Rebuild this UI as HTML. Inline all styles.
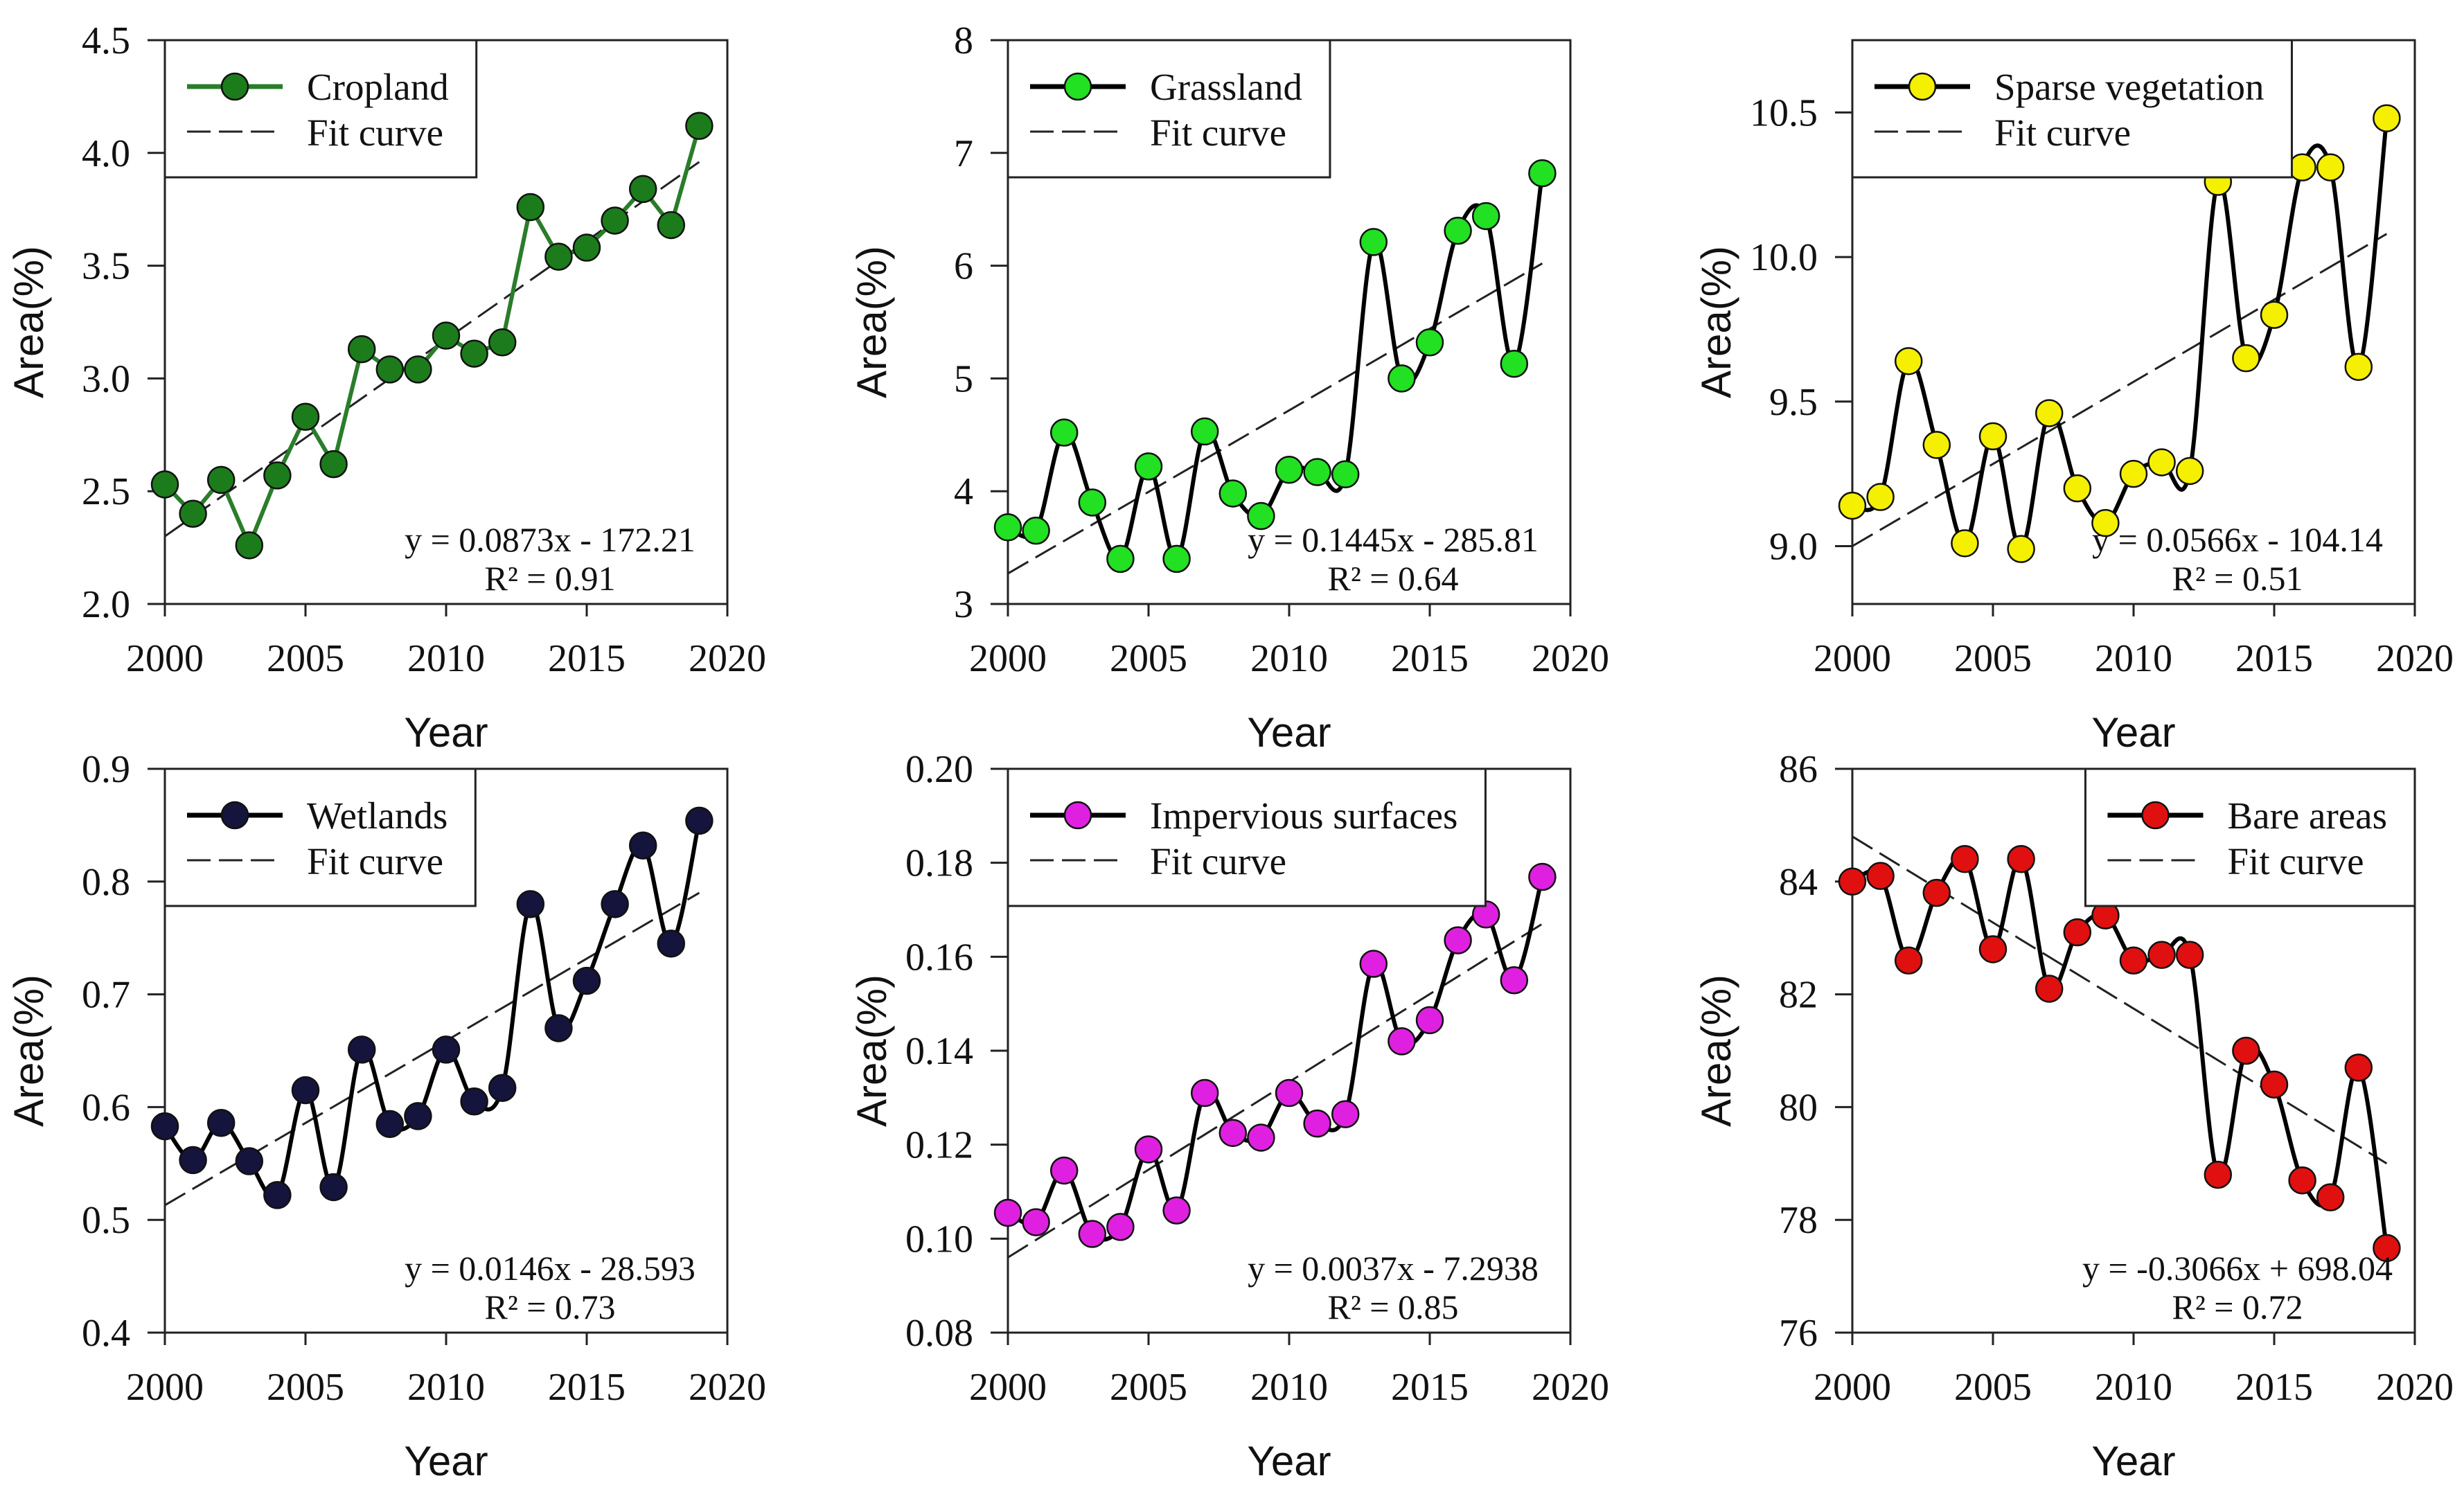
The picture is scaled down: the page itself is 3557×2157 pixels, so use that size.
<!DOCTYPE html>
<html><head><meta charset="utf-8"><style>
html,body{margin:0;padding:0;background:#fff;}
svg{display:block;}
.tk{font-family:"Liberation Serif",serif;font-size:56px;fill:#111;}
.ttl{font-family:"Liberation Sans",sans-serif;font-size:60px;fill:#111;}
.lg{font-family:"Liberation Serif",serif;font-size:55px;fill:#111;}
.eq{font-family:"Liberation Serif",serif;font-size:50px;fill:#111;}
</style></head><body>
<svg id="fig" width="3557" height="2157" viewBox="0 0 3557 2157" xmlns="http://www.w3.org/2000/svg"></svg>
<script>
const years = [2000,2001,2002,2003,2004,2005,2006,2007,2008,2009,2010,2011,2012,2013,2014,2015,2016,2017,2018,2019];
const xTicks = [2000,2005,2010,2015,2020];
const croplandValues = [2.53,2.40,2.55,2.26,2.57,2.83,2.62,3.13,3.04,3.04,3.19,3.11,3.16,3.76,3.54,3.58,3.70,3.84,3.68,4.12];
const grasslandValues = [3.68,3.65,4.52,3.90,3.40,4.22,3.40,4.53,3.98,3.78,4.19,4.17,4.15,6.21,5.00,5.32,6.31,6.44,5.13,6.82];
const sparseValues = [9.14,9.17,9.64,9.35,9.01,9.38,8.99,9.46,9.20,9.08,9.25,9.29,9.26,10.26,9.65,9.80,10.31,10.31,9.62,10.48];
const wetlandValues = [0.583,0.553,0.586,0.552,0.522,0.615,0.529,0.651,0.585,0.592,0.651,0.605,0.617,0.780,0.670,0.712,0.780,0.832,0.745,0.854];
const imperviousValues = [0.1055,0.1035,0.1145,0.101,0.1025,0.119,0.106,0.131,0.1225,0.1215,0.131,0.1245,0.1265,0.1585,0.142,0.1465,0.1635,0.169,0.155,0.177];
const bareValues = [84.0,84.1,82.6,83.8,84.4,82.8,84.4,82.1,83.1,83.4,82.6,82.7,82.7,78.8,81.0,80.4,78.7,78.4,80.7,77.5];
const croplandTicks = ["2.0","2.5","3.0","3.5","4.0","4.5"];
const grasslandTicks = ["3","4","5","6","7","8"];
const sparseTicks = ["9.0","9.5","10.0","10.5"];
const wetlandTicks = ["0.4","0.5","0.6","0.7","0.8","0.9"];
const imperviousTicks = ["0.08","0.10","0.12","0.14","0.16","0.18","0.20"];
const bareTicks = ["76","78","80","82","84","86"];
const croplandFit = [2.30,3.96];
const grasslandFit = [3.27,6.02];
const sparseFit = [9.00,10.08];
const wetlandFit = [0.513,0.790];
const imperviousFit = [0.096,0.167];
const bareFit = [84.8,79.0];

const NS="http://www.w3.org/2000/svg";
const svg=document.getElementById('fig');
function mk(tag,attrs,parent){const e=document.createElementNS(NS,tag);for(const k in attrs)e.setAttribute(k,attrs[k]);(parent||svg).appendChild(e);return e;}

const panels=[
 {key:'cropland',label:'Cropland',vals:croplandValues,ticks:croplandTicks,ymin:2.0,ymax:4.5,fit:croplandFit,fill:'#1c7c1c',line:'#2a7d2a',smooth:false,eq:'y = 0.0873x - 172.21',r2:'R² = 0.91',x0:238,y0:58,legendRight:false},
 {key:'grassland',label:'Grassland',vals:grasslandValues,ticks:grasslandTicks,ymin:3,ymax:8,fit:grasslandFit,fill:'#22e022',line:'#000',smooth:true,eq:'y = 0.1445x - 285.81',r2:'R² = 0.64',x0:1455,y0:58,legendRight:false},
 {key:'sparse',label:'Sparse vegetation',vals:sparseValues,ticks:sparseTicks,ymin:8.8,ymax:10.75,fit:sparseFit,fill:'#f5f000',line:'#000',smooth:true,eq:'y = 0.0566x - 104.14',r2:'R² = 0.51',x0:2674,y0:58,legendRight:false},
 {key:'wetlands',label:'Wetlands',vals:wetlandValues,ticks:wetlandTicks,ymin:0.4,ymax:0.9,fit:wetlandFit,fill:'#14143c',line:'#000',smooth:true,eq:'y = 0.0146x - 28.593',r2:'R² = 0.73',x0:238,y0:1110,legendRight:false},
 {key:'impervious',label:'Impervious surfaces',vals:imperviousValues,ticks:imperviousTicks,ymin:0.08,ymax:0.20,fit:imperviousFit,fill:'#e020e0',line:'#000',smooth:true,eq:'y = 0.0037x - 7.2938',r2:'R² = 0.85',x0:1455,y0:1110,legendRight:false},
 {key:'bare',label:'Bare areas',vals:bareValues,ticks:bareTicks,ymin:76,ymax:86,fit:bareFit,fill:'#e01010',line:'#000',smooth:true,eq:'y = -0.3066x + 698.04',r2:'R² = 0.72',x0:2674,y0:1110,legendRight:true}
];
const W=812,H=814;

panels.forEach(p=>{
 const g=mk('g',{});
 
 
 const sx=v=>p.x0+(v-2000)/20*W;
 const sy=v=>p.y0+H-(v-p.ymin)/(p.ymax-p.ymin)*H;
 const bottom=p.y0+H;
 const fr=mk('rect',{x:p.x0,y:p.y0,width:W,height:H,fill:'none',stroke:'#222','stroke-width':3},g);
 
 
 xTicks.forEach(t=>{
  mk('line',{x1:sx(t),x2:sx(t),y1:bottom,y2:bottom+18,stroke:'#222','stroke-width':3},g);
  const tx=mk('text',{x:sx(t),y:bottom+97,'text-anchor':'middle',class:'tk'},g);
  tx.textContent=t;
  
  
 });
 p.ticks.forEach(t=>{
  const v=parseFloat(t);const y=sy(v);
  mk('line',{x1:p.x0-25,x2:p.x0,y1:y,y2:y,stroke:'#222','stroke-width':3},g);
  const tx=mk('text',{x:p.x0-50,y:y+19,'text-anchor':'end',class:'tk'},g);
  tx.textContent=t;
  
  
 });
 const xt=mk('text',{x:p.x0+W/2,y:p.y0+1020,'text-anchor':'middle',class:'ttl'},g);
 xt.textContent='Year';
 
 
 const ax=p.x0-176, ay=p.y0+H/2;
 const yt=mk('text',{x:ax,y:ay,'text-anchor':'middle',class:'ttl',transform:`rotate(-90 ${ax} ${ay})`},g);
 yt.textContent='Area(%)';
 
 
 const fl=mk('line',{x1:sx(2000),y1:sy(p.fit[0]),x2:sx(2019),y2:sy(p.fit[1]),stroke:'#222','stroke-width':3,'stroke-dasharray':'34 12'},g);
 
 
 const pts=years.map((yr,i)=>[sx(yr),sy(p.vals[i])]);
 let d='M'+pts[0][0]+','+pts[0][1];
 if(!p.smooth){for(let i=1;i<pts.length;i++)d+=' L'+pts[i][0]+','+pts[i][1];}
 else{
  for(let i=0;i<pts.length-1;i++){
   const p0=pts[Math.max(0,i-1)],p1=pts[i],p2=pts[i+1],p3=pts[Math.min(pts.length-1,i+2)];
   const c1=[p1[0]+(p2[0]-p0[0])/6,p1[1]+(p2[1]-p0[1])/6];
   const c2=[p2[0]-(p3[0]-p1[0])/6,p2[1]-(p3[1]-p1[1])/6];
   d+=` C${c1[0]},${c1[1]} ${c2[0]},${c2[1]} ${p2[0]},${p2[1]}`;
  }
 }
 const sl=mk('path',{d:d,fill:'none',stroke:p.line,'stroke-width':6},g);
 
 
 pts.forEach((pt,i)=>{
  const c=mk('circle',{cx:pt[0],cy:pt[1],r:19,fill:p.fill,stroke:'#111','stroke-width':2.5},g);
  
  
 });
 const ex=p.x0+556;
 const e1=mk('text',{x:ex,y:bottom-76,'text-anchor':'middle',class:'eq'},g);
 e1.textContent=p.eq;
 
 
 const e2=mk('text',{x:ex,y:bottom-20,'text-anchor':'middle',class:'eq'},g);
 e2.textContent=p.r2;
 
 
 const lg=mk('g',{},g);
 
 
 const lr=mk('rect',{x:0,y:p.y0,width:10,height:198,fill:'#fff',stroke:'#222','stroke-width':3},lg);
 const t1=mk('text',{y:p.y0+86,class:'lg'},lg);t1.textContent=p.label;
 
 
 const t2=mk('text',{y:p.y0+152,class:'lg'},lg);t2.textContent='Fit curve';
 
 
 const tw=Math.max(t1.getComputedTextLength(),t2.getComputedTextLength());
 const bw=205+tw+40;
 const bx=p.legendRight?p.x0+W-bw:p.x0;
 lr.setAttribute('x',bx);lr.setAttribute('width',bw);
 t1.setAttribute('x',bx+205);t2.setAttribute('x',bx+205);
 mk('line',{x1:bx+32,x2:bx+170,y1:p.y0+67,y2:p.y0+67,stroke:p.line,'stroke-width':7},lg);
 mk('circle',{cx:bx+101,cy:p.y0+67,r:19,fill:p.fill,stroke:'#111','stroke-width':2.5},lg);
 mk('line',{x1:bx+32,x2:bx+170,y1:p.y0+132,y2:p.y0+132,stroke:'#222','stroke-width':3,'stroke-dasharray':'34 12'},lg);
});
</script>
</body></html>
